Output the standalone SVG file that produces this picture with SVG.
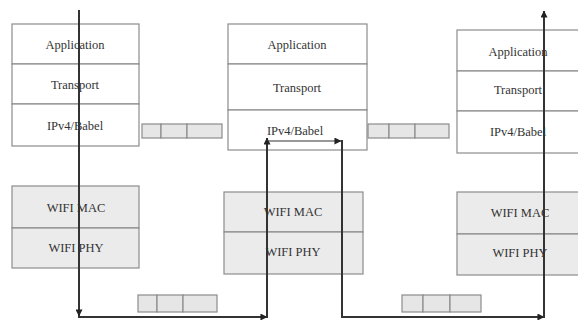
<svg xmlns="http://www.w3.org/2000/svg" width="578" height="320" viewBox="0 0 578 320">
<defs>
<style>
.box{fill:#ffffff;stroke:#8c8c8c;stroke-width:1.2}
.gbox{fill:#ebebeb;stroke:#8c8c8c;stroke-width:1.2}
.pk{fill:#e6e6e6;stroke:#8c8c8c;stroke-width:1.2}
.t{font-family:"Liberation Serif","Times New Roman",serif;font-size:12.5px;fill:#333;text-anchor:middle;dominant-baseline:central}
.c{fill:none;stroke:#333;stroke-width:2}
.ct{fill:none;stroke:#333;stroke-width:1.2}
</style>
<marker id="ah" viewBox="0 0 8 8" markerUnits="userSpaceOnUse" markerWidth="7" markerHeight="7" refX="7.5" refY="4" orient="auto">
<path d="M0,0 L8,4 L0,8 z" fill="#222"/>
</marker>
</defs>
<rect width="578" height="320" fill="#fff"/>
<g id="stack-left">
<rect class="box" x="12" y="24" width="127" height="40"/>
<rect class="box" x="12" y="64" width="127" height="40"/>
<rect class="box" x="12" y="104" width="127" height="42"/>
<text class="t" x="75" y="45">Application</text>
<text class="t" x="75" y="85">Transport</text>
<text class="t" x="75" y="126">IPv4/Babel</text>
</g>
<g id="wifi-left">
<rect class="gbox" x="12" y="186" width="127" height="42"/>
<rect class="gbox" x="12" y="228" width="127" height="40"/>
<text class="t" x="76" y="208">WIFI MAC</text>
<text class="t" x="76" y="248">WIFI PHY</text>
</g>
<g id="stack-mid">
<rect class="box" x="228" y="24" width="139" height="40"/>
<rect class="box" x="228" y="64" width="139" height="46"/>
<rect class="box" x="228" y="110" width="139" height="40"/>
<text class="t" x="297" y="45">Application</text>
<text class="t" x="297" y="88">Transport</text>
<text class="t" x="295" y="131">IPv4/Babel</text>
</g>
<g id="wifi-mid">
<rect class="gbox" x="224" y="192" width="139" height="40"/>
<rect class="gbox" x="224" y="232" width="139" height="42"/>
<text class="t" x="293" y="212">WIFI MAC</text>
<text class="t" x="293" y="252">WIFI PHY</text>
</g>
<g id="stack-right">
<rect class="box" x="457" y="30" width="125" height="41"/>
<rect class="box" x="457" y="71" width="125" height="40"/>
<rect class="box" x="457" y="111" width="125" height="42"/>
<text class="t" x="518" y="52">Application</text>
<text class="t" x="518" y="90">Transport</text>
<text class="t" x="518" y="132">IPv4/Babel</text>
</g>
<g id="wifi-right">
<rect class="gbox" x="457" y="192" width="125" height="42"/>
<rect class="gbox" x="457" y="234" width="125" height="41"/>
<text class="t" x="520" y="213">WIFI MAC</text>
<text class="t" x="520" y="253">WIFI PHY</text>
</g>
<g id="packet-1">
<rect class="pk" x="142" y="124" width="19" height="14"/>
<rect class="pk" x="161" y="124" width="26" height="14"/>
<rect class="pk" x="187" y="124" width="35" height="14"/>
</g>
<g id="packet-2">
<rect class="pk" x="368" y="124" width="21" height="14"/>
<rect class="pk" x="389" y="124" width="26" height="14"/>
<rect class="pk" x="415" y="124" width="34" height="14"/>
</g>
<g id="packet-3">
<rect class="pk" x="138" y="295" width="19" height="17"/>
<rect class="pk" x="157" y="295" width="26" height="17"/>
<rect class="pk" x="183" y="295" width="34" height="17"/>
</g>
<g id="packet-4">
<rect class="pk" x="402" y="295" width="21" height="17"/>
<rect class="pk" x="423" y="295" width="27" height="17"/>
<rect class="pk" x="450" y="295" width="31" height="17"/>
</g>
<g id="connectors">
<path class="c" d="M79,10 V316" marker-end="url(#ah)"/>
<path class="c" d="M78,317 H267" marker-end="url(#ah)"/>
<path class="c" d="M267,318 V138" marker-end="url(#ah)"/>
<path class="ct" d="M267,141 H341" marker-end="url(#ah)"/>
<path class="c" d="M342,140 V317 H544" marker-end="url(#ah)"/>
<path class="c" d="M544,318 V11" marker-end="url(#ah)"/>
</g>
</svg>
